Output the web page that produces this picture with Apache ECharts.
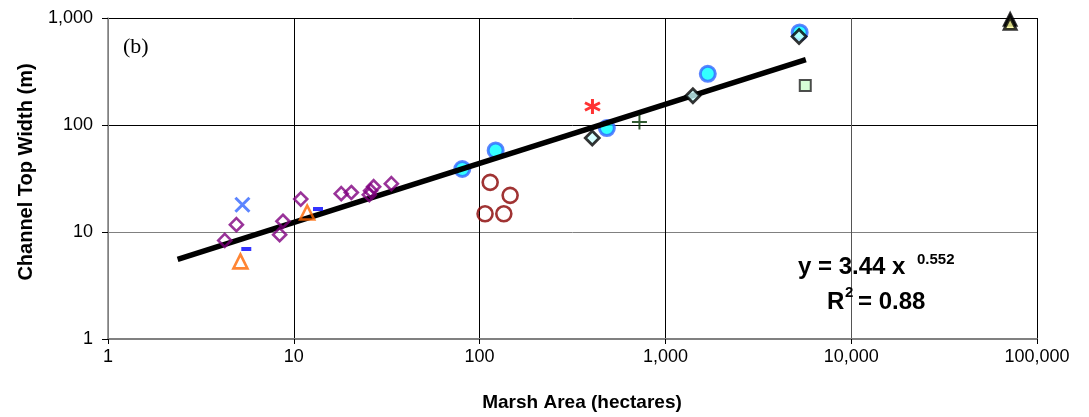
<!DOCTYPE html>
<html>
<head>
<meta charset="utf-8">
<script src="https://cdn.jsdelivr.net/npm/echarts@6/dist/echarts.min.js"></script>
<style>
html,body{margin:0;padding:0;background:#fff;}
#chart{width:1089px;height:417px;}
</style>
</head>
<body>
<div id="chart"></div>
<script>
// ---- data (Marsh Area [ha], Channel Top Width [m]) ----
const purpleDiamonds = [[4.25,8.35],[4.91,11.7],[8.74,12.6],[8.39,9.44],[10.9,20.3],[18.0,22.8],[20.4,23.4],[25.9,24.3],[26.9,26.5],[25.5,22.3],[33.5,28.3]];
const blueCircles = [[80.7,38.8],[122,57.9],[484,93.7],[1691,301],[5280,733]];
const brownCircles = [[114,29.1],[146,22.0],[107,14.8],[135,14.8]];
const cyanDiamonds = [[404,75.6],[1406,188],[5240,673]];
const orangeTriangles = [[5.16,5.31],[11.8,15.2]];
const blueCrosses = [[5.29,18.0]];
const blueDashes = [[5.55,6.94],[13.5,16.4]];
const redStars = [[405,149]];
const greenPlus = [[725,106.7]];
const greenSquares = [[5660,234.5]];
const yellowTriangles = [[71700,890]];
const blackTriangles = [[71700,975]];
const trendLine = [[2.37,5.55],[5700,408]];
const xTicks = [1,10,100,1000,10000,100000];
const yTicks = [1,10,100,1000];

const fmt = v => Number(v).toLocaleString('en-US');
const chart = echarts.init(document.getElementById('chart'), null, {renderer:'canvas'});

const FONT = 'Liberation Sans, Arial, sans-serif';

function sc(name, data, symbol, size, style, z){
  return {name, type:'scatter', data, symbol, symbolSize:size, itemStyle:style, z:z||3, silent:true, animation:false};
}

const option = {
  animation:false,
  backgroundColor:'#fff',
  grid:{left:108, right:52, top:18, bottom:78, containLabel:false},
  xAxis:{
    type:'log', logBase:10, min:xTicks[0], max:xTicks[xTicks.length-1],
    axisLine:{show:true, lineStyle:{color:'#808080', width:2}},
    axisTick:{show:true, length:5, lineStyle:{color:'#000'}},
    axisLabel:{formatter:fmt, color:'#000', fontFamily:FONT, fontSize:18, margin:9},
    splitLine:{show:true, lineStyle:{color:['#808080','#000','#000','#000','#555','#000'], width:1}},
    minorTick:{show:false}
  },
  yAxis:{
    type:'log', logBase:10, min:yTicks[0], max:yTicks[yTicks.length-1],
    axisLine:{show:true, lineStyle:{color:'#808080', width:1.5}},
    axisTick:{show:true, length:6, lineStyle:{color:'#000'}},
    axisLabel:{formatter:fmt, color:'#000', fontFamily:FONT, fontSize:18, margin:15},
    splitLine:{show:true, lineStyle:{color:['#808080','#808080','#000','#000'], width:1}}
  },
  series:[
    sc('blue circles', blueCircles, 'circle', 15, {color:'#00FFFF', borderColor:'#3366FF', borderWidth:3}, 2),
    {name:'trend', type:'line', data:trendLine, symbol:'none', lineStyle:{color:'#000', width:5.5}, z:3, silent:true, animation:false},
    sc('purple', purpleDiamonds, 'diamond', 13, {color:'rgba(0,0,0,0)', borderColor:'#800080', borderWidth:2.6}, 4),
    sc('brown', brownCircles, 'circle', 15, {color:'rgba(0,0,0,0)', borderColor:'#880000', borderWidth:2.6}, 4),
    sc('cyan diamonds', cyanDiamonds, 'diamond', 14, {color:'#CCFFFF', borderColor:'#000', borderWidth:2.8}, 4),
    sc('orange', orangeTriangles, 'triangle', 14, {color:'rgba(0,0,0,0)', borderColor:'#FF6600', borderWidth:2.6}, 4),
    sc('cross', blueCrosses, 'path://M0,0L10,10M10,0L0,10', 14, {color:'none', borderColor:'#3366FF', borderWidth:3}, 4),
    sc('dash', blueDashes, 'rect', [10,4], {color:'#0000FF'}, 4),
    sc('star', redStars, 'path://M5,0L5,10M0.7,2.5L9.3,7.5M0.7,7.5L9.3,2.5', 15, {color:'none', borderColor:'#FF0000', borderWidth:3}, 4),
    sc('plus', greenPlus, 'path://M5,0L5,10M0,5L10,5', 15, {color:'none', borderColor:'#003300', borderWidth:2}, 4),
    sc('square', greenSquares, 'rect', 11, {color:'#CCFFCC', borderColor:'#222', borderWidth:2}, 4),
    sc('black tri', blackTriangles, 'triangle', 13, {color:'#000', borderColor:'#000', borderWidth:2}, 4),
    sc('yellow tri', yellowTriangles, 'triangle', 12, {color:'#FFFF99', borderColor:'#000', borderWidth:2.8}, 5)
  ],
  graphic:[
    {type:'text', x:123, y:47, style:{text:'(b)', font:'22px "Liberation Serif", "Times New Roman", serif', fill:'#000', textAlign:'left', textVerticalAlign:'middle'}, z:10},
    {type:'text', x:26, y:172, rotation:Math.PI/2, style:{text:'Channel Top Width (m)', font:'bold 20px "Liberation Sans", Arial, sans-serif', fill:'#000', textAlign:'center', textVerticalAlign:'middle'}, z:10},
    {type:'text', x:582, y:403, style:{text:'Marsh Area (hectares)', font:'bold 19px "Liberation Sans", Arial, sans-serif', fill:'#000', textAlign:'center', textVerticalAlign:'middle'}, z:10},
    {type:'text', x:798, y:279, style:{text:'y = 3.44 x', font:'bold 24px "Liberation Sans", Arial, sans-serif', fill:'#000', textAlign:'left', textVerticalAlign:'bottom'}, z:10},
    {type:'text', x:917, y:267, style:{text:'0.552', font:'bold 15px "Liberation Sans", Arial, sans-serif', fill:'#000', textAlign:'left', textVerticalAlign:'bottom'}, z:10},
    {type:'text', x:827, y:314, style:{text:'R', font:'bold 24px "Liberation Sans", Arial, sans-serif', fill:'#000', textAlign:'left', textVerticalAlign:'bottom'}, z:10},
    {type:'text', x:845, y:300, style:{text:'2', font:'bold 15px "Liberation Sans", Arial, sans-serif', fill:'#000', textAlign:'left', textVerticalAlign:'bottom'}, z:10},
    {type:'text', x:858, y:314, style:{text:'= 0.88', font:'bold 24px "Liberation Sans", Arial, sans-serif', fill:'#000', textAlign:'left', textVerticalAlign:'bottom'}, z:10}
  ]
};
chart.setOption(option);
</script>
</body>
</html>
